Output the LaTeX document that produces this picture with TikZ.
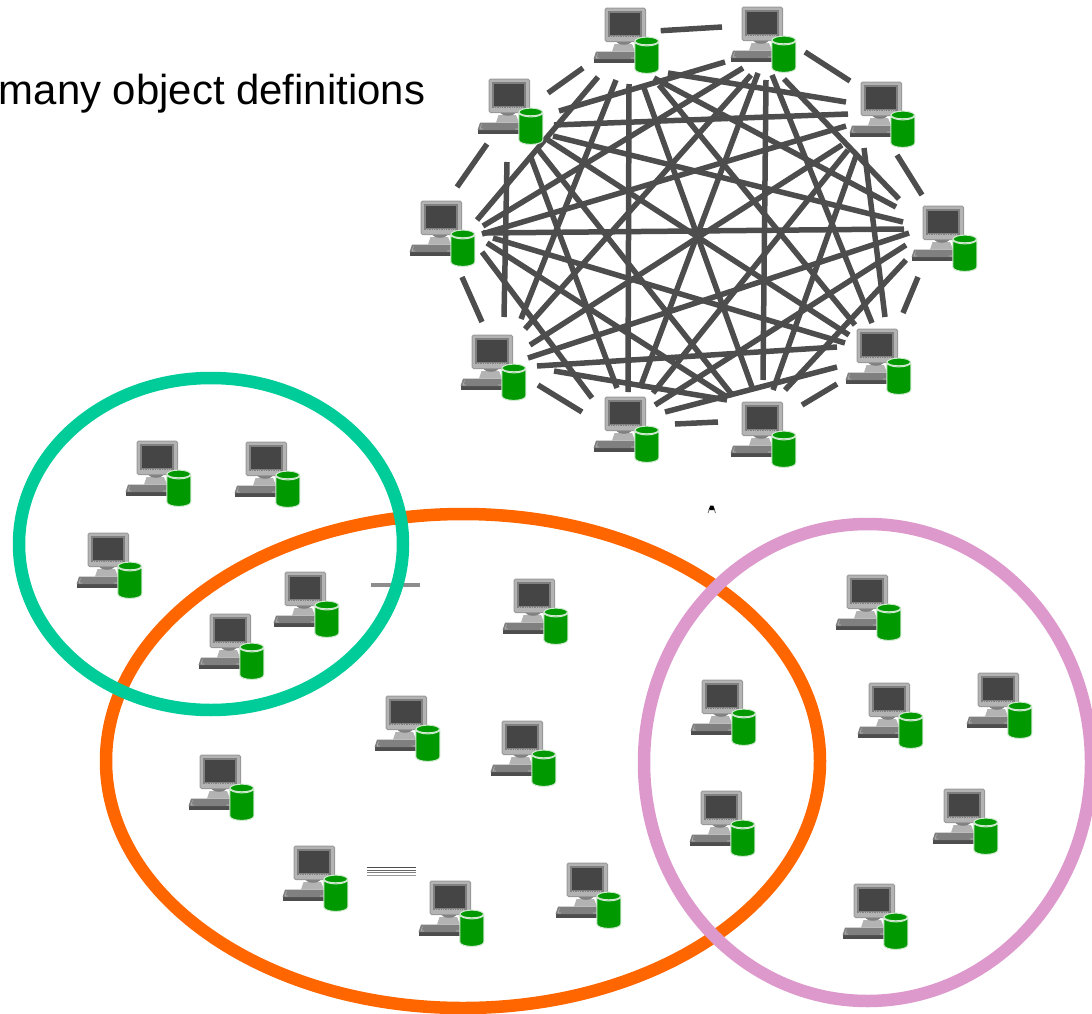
\documentclass[tikz,border=0pt]{standalone}
\usepackage{fontspec}
\setmainfont{Liberation Sans}

\definecolor{linkgray}{HTML}{4D4D4D}
\definecolor{caseground}{HTML}{B3B3B3}
\definecolor{casedark}{HTML}{808080}
\definecolor{drumgreen}{HTML}{009900}
\definecolor{drumrim}{HTML}{CFE8CF}
\definecolor{setgreen}{HTML}{00CC99}
\definecolor{setorange}{HTML}{FF6600}
\definecolor{setpink}{HTML}{DD99CC}

\tikzset{
  ringlink/.style={draw=linkgray,line width=0.11cm},
  setring/.style={line width=0.25cm},
  pics/host/.style={code={
    \coordinate (-o) at (0,0);
    % Drawing keyboard
    \fill[linkgray] (-11.5,50.5) -- (-11.5,54.5) -- (31,54.5) -- (31,50.5) -- cycle;
    \fill[casedark] (-9,43.5) -- (-11.5,51) -- (31,51) -- (31,43.5) -- cycle;
    \draw[caseground,line width=0.012cm] (-7.5,45.5) -- (-9,50) (-9,50) -- (-6,50) (26,50) -- (30,50);
    % Drawing stand
    \fill[caseground] (7,43.5) -- (9.5,36) -- (27,36) -- (30,43.5) -- cycle;
    \fill[casedark] (11,33) .. controls (13,38) and (25,38) .. (27,33) -- cycle;
    % Drawing monitor
    \draw[draw=casedark!80,fill=caseground,line width=0.02cm,rounded corners=0.03cm] (0,0) rectangle (40.5,33.5);
    \fill[casedark] (3.3,3.3) rectangle (37,29);
    \fill[linkgray!90!black] (5.3,5) rectangle (35,27);
    \draw[caseground,densely dotted,line width=0.012cm] (5,28) -- (35.5,28);
    % Drawing drum
    \draw[draw=drumrim,fill=drumgreen,line width=0.02cm] (29.8,33.5) -- (29.8,61) arc[start angle=180,end angle=360,x radius=12,y radius=-4.4] -- (53.8,33.5) arc[start angle=0,end angle=360,x radius=12,y radius=-4.4];
    \draw[draw=drumrim,line width=0.025cm] (30.3,33.5) arc[start angle=180,end angle=360,x radius=11.5,y radius=-3.4];
  }}
}

\begin{document}
\begin{tikzpicture}[x=0.02cm,y=-0.02cm]
  \useasboundingbox (0,0) rectangle (1092,1014);

  % Marking title
  \node[anchor=base west,inner sep=0pt,font=\fontsize{23.85pt}{28pt}\selectfont] (title) at (-1.5,104) {many object definitions};

  % Drawing stray bars
  \fill[casedark!90] (371,583) rectangle (420,587);
  \foreach \y/\c in {867/70,869.7/60,872.2/50,874.6/40}
    \fill[black!\c] (367,\y) rectangle (416,\y+1.2);

  % Drawing stray mark
  \fill[black] (708.5,510) -- (710.3,505.5) -- (713.2,505.5) -- (715,510) -- cycle;
  \draw[black!60,line width=0.015cm] (709.5,509) -- (708,513) (714,509) -- (715.5,513);

  % Drawing sets
  \draw[setring,setorange] (463,761) ellipse (357 and 247);
  \draw[setring,setpink] (867.5,762.5) ellipse (223.5 and 238.5);
  \draw[setring,setgreen] (211,544) ellipse (192 and 166);

  % Marking link ends
  \foreach \n/\x/\y in {
    ab/660.7/30.7,ac/668/73,ad/654/78,ae/659/85,af/644/88,ag/629/84,ah/616/80,ai/598/77,aj/583/68,
    ba/722/27,bc/805/52,bd/784/79,be/772/75,bf/766/80,bg/758/73,bh/751/75,bi/743/68,bj/725/62,
    ca/846/102,cb/850/81,cd/897/155,ce/864/148,cf/857/153,cg/848/150,ch/842/145,ci/846/126,cj/848/114,
    da/896/207,db/899/199,dc/922/195,de/918/277,df/906/260,dg/906/245,dh/909/233,di/904/229,dj/903/222,
    ea/855/325,eb/872/323,ec/885/317,ed/903/313,ef/837/384,eg/837/367,eh/837/347,ei/845/343,ej/849/335,
    fa/752/387,fb/763/380,fc/773/390,fd/785/390,fe/802/405,fg/718/422,fh/727/400,fi/727/397,fj/733/396,
    ga/628/392,gb/640/388,gc/653/393,gd/655/405,ge/665/412,gf/675/424,gh/582/412,gi/592/398,gj/617/388,
    ha/521/319,hb/525/329,hc/530/345,hd/528/358,he/537/366,hf/554/371,hg/538/385,hi/482/322,hj/504/317,
    ia/477/220,ib/483/226,ic/482/234,id/483/233,ie/493/238,if/487/243,ig/482/252,ih/462/277,ij/457/187,
    ja/548/93,jb/559/111,jc/554/125,jd/553/136,je/548/140,jf/537/148,jg/530/155,jh/507/162,ji/487/144}
    \coordinate (\n) at (\x,\y);

  % Drawing ring links
  \foreach \a/\b in {
    a/b,a/c,a/d,a/e,a/f,a/g,a/h,a/i,a/j,
    b/c,b/d,b/e,b/f,b/g,b/h,b/i,b/j,
    c/d,c/e,c/f,c/g,c/h,c/i,c/j,
    d/e,d/f,d/g,d/h,d/i,d/j,
    e/f,e/g,e/h,e/i,e/j,
    f/g,f/h,f/i,f/j,
    g/h,g/i,g/j,
    h/i,h/j,
    i/j}
    \draw[ringlink] (\a\b) -- (\b\a);

  % Drawing ring hosts
  \foreach \n/\x/\y in {hosta/605/8,hostb/742/7,hostc/861/82,hostd/923/206,hoste/857/329,
                        hostf/742/402,hostg/605/397,hosth/472/335,hosti/421/201,hostj/489/79}
    \pic (\n) at (\x,\y) {host};

  % Drawing set hosts
  \foreach \n/\x/\y in {greena/137/441,greenb/246/442,greenc/88/533,bothgo/285/572,bothgp/210/614,
                        orangea/514/579,orangeb/386/696,orangec/502/721,oranged/200/755,
                        orangee/294/846,orangef/430/881,orangeg/567/863,
                        bothpa/702/680,bothpb/701/791,
                        pinka/847/575,pinkb/869/683,pinkc/978/673,pinkd/944/789,pinke/854/884}
    \pic (\n) at (\x,\y) {host};
\end{tikzpicture}
\end{document}
